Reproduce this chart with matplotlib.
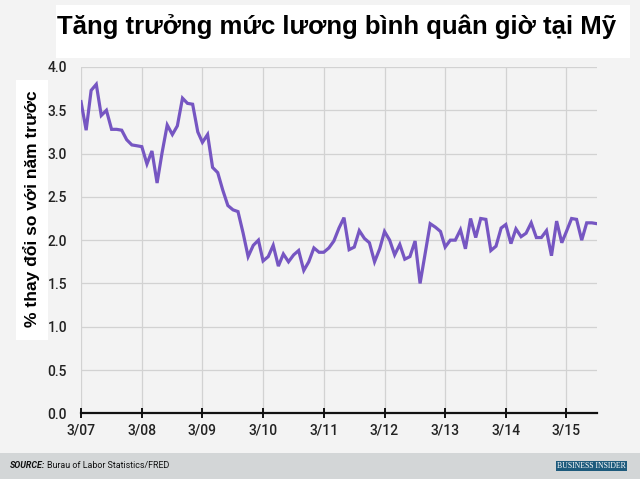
import matplotlib
matplotlib.use("Agg")
import matplotlib.pyplot as plt
import matplotlib.dates as mdates
import pandas as pd
from matplotlib.patches import Rectangle

title = "Tăng trưởng mức lương bình quân giờ tại Mỹ"
ylabel = "% thay đổi so với năm trước"
source_bold = "SOURCE:"
source_text = "Burau of Labor Statistics/FRED"
logo_text = "BUSINESS INSIDER"

start_month = "2007-03-01"
values = [
    3.60, 3.27, 3.73, 3.80, 3.44, 3.50, 3.28, 3.28, 3.27, 3.16, 3.10, 3.09,
    3.08, 2.88, 3.03, 2.66, 3.01, 3.33, 3.22, 3.32, 3.64, 3.58, 3.57, 3.25,
    3.13, 3.22, 2.84, 2.78, 2.58, 2.40, 2.35, 2.33, 2.08, 1.81, 1.94, 2.00,
    1.76, 1.81, 1.94, 1.70, 1.84, 1.75, 1.83, 1.88, 1.65, 1.75, 1.91, 1.86,
    1.86, 1.91, 1.99, 2.14, 2.26, 1.89, 1.92, 2.11, 2.02, 1.97, 1.75, 1.90,
    2.10, 2.00, 1.83, 1.95, 1.78, 1.81, 1.99, 1.50, 1.85, 2.19, 2.15, 2.10,
    1.92, 2.00, 2.00, 2.12, 1.90, 2.25, 2.03, 2.25, 2.24, 1.88, 1.93, 2.14,
    2.18, 1.96, 2.13, 2.04, 2.08, 2.20, 2.03, 2.03, 2.11, 1.82, 2.22, 1.97,
    2.10, 2.25, 2.24, 2.00, 2.20, 2.20, 2.19,
]
dates = pd.date_range(start_month, periods=len(values), freq="MS")
tick_years = list(range(2007, 2016))
tick_labels = ["3/07", "3/08", "3/09", "3/10", "3/11", "3/12", "3/13", "3/14", "3/15"]
yticks = [0.0, 0.5, 1.0, 1.5, 2.0, 2.5, 3.0, 3.5, 4.0]

bg = "#f3f3f3"
fig = plt.figure(figsize=(6.4, 4.79), dpi=100, facecolor=bg)
W, H = 640, 479

ax = fig.add_axes([81 / W, 1 - 413.3 / H, (597 - 81) / W, (413.3 - 67) / H])
ax.set_facecolor(bg)
ax.plot(dates, values, color="#7656c2", lw=2.3, solid_joinstyle="miter", zorder=3)

ax.set_xlim(dates[0], dates[-1])
ax.set_ylim(0, 4.0)
ax.set_yticks(yticks)
ax.set_yticklabels([f"{v:.1f}" for v in yticks])
ax.set_xticks([pd.Timestamp(f"{y}-03-01") for y in tick_years])
ax.set_xticklabels(tick_labels)

for s in ["top", "right", "left"]:
    ax.spines[s].set_visible(False)
ax.spines["bottom"].set_color("#111111")
ax.spines["bottom"].set_linewidth(1.6)
ax.spines["bottom"].set_zorder(4)

ax.grid(True, color="#d2d2d2", lw=0.9)
ax.set_axisbelow(True)
ax.tick_params(axis="y", length=0, pad=10, labelsize=10, labelcolor="#222222")
ax.tick_params(axis="x", direction="inout", length=7, width=1.4, color="#111111",
               pad=4, labelsize=10, labelcolor="#222222")
for lab in ax.get_xticklabels() + ax.get_yticklabels():
    lab.set_fontfamily(["Roboto", "DejaVu Sans"])
    lab.set_fontweight("medium")

# title box
fig.patches.append(Rectangle((56 / W, 1 - 58 / H), (630 - 56) / W, (58 - 5) / H,
                             transform=fig.transFigure, facecolor="white", edgecolor="none", zorder=0))
fig.text(57 / W, 1 - 27 / H, title, fontsize=18.5, fontweight="bold",
         family=["Liberation Sans", "DejaVu Sans"], va="center", ha="left", color="#000000")

# y label box
fig.patches.append(Rectangle((16 / W, 1 - 340 / H), (48 - 16) / W, (340 - 80) / H,
                             transform=fig.transFigure, facecolor="white", edgecolor="none", zorder=0))
fig.text(32 / W, 1 - 209 / H, ylabel, rotation=90, fontsize=12.5, fontweight="bold",
         family=["Liberation Sans", "DejaVu Sans"], va="center", ha="center", color="#000000")

# footer
fig.patches.append(Rectangle((0, 0), 1, (479 - 453) / H, transform=fig.transFigure,
                             facecolor="#d3d6d7", edgecolor="none", zorder=0))
fig.text(10 / W, 1 - 466 / H, source_bold, fontsize=6.4, fontweight="bold", style="italic",
         family=["Roboto", "DejaVu Sans"], va="center", ha="left", color="#111111")
fig.text(47 / W, 1 - 466 / H, source_text, fontsize=6.4,
         family=["Roboto", "DejaVu Sans"], va="center", ha="left", color="#111111")
fig.patches.append(Rectangle((556 / W, 1 - 470.5 / H), (627 - 556) / W, (470.5 - 460.5) / H,
                             transform=fig.transFigure, facecolor="#1d5a7c", edgecolor="none", zorder=1))
fig.text(591.5 / W, 1 - 465.5 / H, logo_text, fontsize=5.6, family=["Liberation Serif", "DejaVu Serif"],
         va="center", ha="center", color="white", zorder=2)

fig.savefig("out.png", dpi=100, facecolor=bg)
